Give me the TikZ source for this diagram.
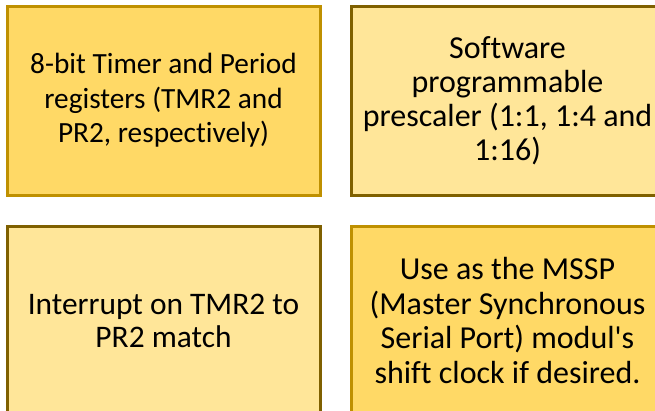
\documentclass[tikz,border=0pt]{standalone}
\usepackage{fontspec}
\newfontfamily\boxfont{Carlito}[Ligatures=NoCommon]
\definecolor{goldfill}{HTML}{FFD966}
\definecolor{lightfill}{HTML}{FFE699}
\definecolor{goldline}{HTML}{BF9000}
\definecolor{darkline}{HTML}{7F6000}
\begin{document}
\begin{tikzpicture}[x=1pt,y=-1pt,
  box/.style={draw, line width=3pt, minimum width=313pt, minimum height=189pt,
    inner sep=0pt, align=center, text=black},
  boxA/.style={box, fill=goldfill, draw=goldline},
  boxB/.style={box, fill=lightfill, draw=darkline}]
\useasboundingbox (0,0) rectangle (655,410);
\clip (0,0) rectangle (655,410);
\node[boxA, font=\boxfont\fontsize{29.3}{34.5}\selectfont] (tl) at (163.5,100.5) {8-bit Timer and Period\\registers (TMR2 and\\PR2, respectively)};
\node[boxB, font=\boxfont\fontsize{32}{34}\selectfont] (tr) at (507.5,100.5) {Software\\programmable\\prescaler (1:1, 1:4 and\\1:16)};
\node[boxB, font=\boxfont\fontsize{31.4}{33}\selectfont] (bl) at (163.5,320.5) {Interrupt on TMR2 to\\PR2 match};
\node[boxA, font=\boxfont\fontsize{32}{34.5}\selectfont] (br) at (507.5,320.5) {Use as the MSSP\\(Master Synchronous\\Serial Port) modul'{}s\\shift clock if desired.};
\end{tikzpicture}
\end{document}
